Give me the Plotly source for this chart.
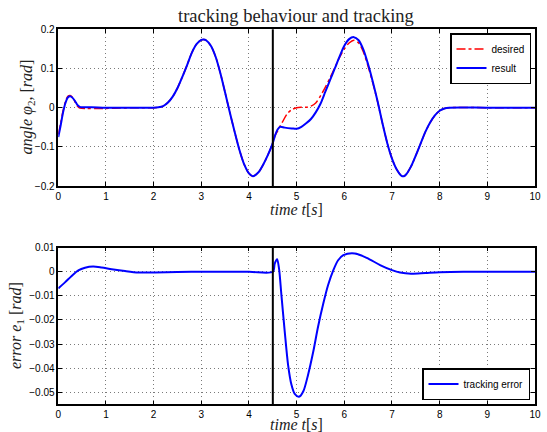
import plotly.graph_objects as go

# ---------------- data ----------------
t_result = [0, 0.05, 0.1, 0.15, 0.2, 0.25, 0.3, 0.35, 0.4, 0.45,
            0.5, 0.7, 1.0, 1.5, 2.0, 2.1, 2.2, 2.3, 2.4, 2.5,
            2.6, 2.7, 2.8, 2.9, 3.0, 3.05, 3.1, 3.2, 3.3, 3.4,
            3.5, 3.6, 3.7, 3.8, 3.9, 4.0, 4.08, 4.2, 4.3, 4.4,
            4.5, 4.55, 4.6, 4.65, 4.75, 4.9, 5.0, 5.1, 5.2, 5.3,
            5.4, 5.5, 5.6, 5.7, 5.8, 5.9, 6.0, 6.1, 6.2, 6.3,
            6.4, 6.5, 6.6, 6.7, 6.8, 6.9, 7.0, 7.1, 7.2, 7.25,
            7.3, 7.4, 7.5, 7.6, 7.7, 7.8, 7.9, 8.0, 8.1, 8.2,
            9.0, 10.0]
result = [-0.075, -0.045, -0.012, 0.012, 0.026, 0.029, 0.025, 0.017, 0.007, 0.002,
          0.001, 0.001, 0.0, 0.0, 0.0, 0.001, 0.004, 0.013, 0.028, 0.05,
          0.078, 0.108, 0.14, 0.162, 0.173, 0.174, 0.172, 0.158, 0.13, 0.088,
          0.038, -0.013, -0.062, -0.108, -0.145, -0.168, -0.175, -0.165, -0.145, -0.12,
          -0.09, -0.07, -0.056, -0.049, -0.051, -0.053, -0.054, -0.049, -0.04, -0.029,
          -0.012, 0.01, 0.04, 0.07, 0.1, 0.13, 0.158, 0.175, 0.18, 0.172,
          0.148, 0.11, 0.065, 0.015, -0.04, -0.09, -0.13, -0.158, -0.174, -0.175,
          -0.17, -0.15, -0.122, -0.092, -0.062, -0.038, -0.02, -0.008, -0.002, 0.0,
          0.0, 0.0]

t_desired = [0, 0.05, 0.1, 0.15, 0.2, 0.25, 0.3, 0.35, 0.4, 0.45,
             0.6, 0.8, 1.0, 1.3, 1.7, 2.0, 2.1, 2.2, 2.3, 2.4,
             2.5, 2.6, 2.7, 2.8, 2.9, 3.0, 3.05, 3.1, 3.2, 3.3,
             3.4, 3.5, 3.6, 3.7, 3.8, 3.9, 4.0, 4.08, 4.2, 4.3,
             4.4, 4.5, 4.55, 4.6, 4.65, 4.7, 4.8, 4.9, 5.0, 5.1,
             5.2, 5.3, 5.4, 5.5, 5.6, 5.7, 5.8, 5.9, 6.0, 6.1,
             6.2, 6.3, 6.4, 6.5, 6.6, 6.7, 6.8, 6.9, 7.0, 7.1,
             7.2, 7.25, 7.3, 7.4, 7.5, 7.6, 7.7, 7.8, 7.9, 8.0,
             8.1, 8.2, 9.0, 10.0]
desired = [-0.068, -0.04, -0.008, 0.015, 0.029, 0.031, 0.026, 0.015, 0.004, -0.001,
           -0.002, -0.002, -0.002, -0.001, 0.0, 0.0, 0.001, 0.004, 0.013, 0.028,
           0.05, 0.078, 0.108, 0.14, 0.162, 0.173, 0.174, 0.172, 0.158, 0.13,
           0.088, 0.038, -0.013, -0.062, -0.108, -0.145, -0.168, -0.175, -0.165, -0.145,
           -0.12, -0.09, -0.07, -0.06, -0.048, -0.037, -0.016, -0.005, 0.0, 0.001,
           0.001, 0.004, 0.012, 0.03, 0.052, 0.076, 0.102, 0.128, 0.15, 0.165,
           0.172, 0.165, 0.142, 0.105, 0.062, 0.014, -0.04, -0.09, -0.13, -0.158,
           -0.174, -0.175, -0.17, -0.15, -0.122, -0.092, -0.062, -0.038, -0.02, -0.008,
           -0.002, 0.0, 0.0, 0.0]

t_error = [0, 0.14, 0.28, 0.42, 0.56, 0.73, 0.91, 1.12, 1.4, 1.68,
           2.03, 2.5, 3.0, 4.0, 4.5, 4.54, 4.59, 4.63, 4.68, 4.75,
           4.82, 4.89, 4.96, 5.05, 5.14, 5.24, 5.35, 5.45, 5.56, 5.66,
           5.77, 5.87, 5.98, 6.22, 6.47, 6.75, 7.0, 7.17, 7.4, 7.7,
           8.0, 8.5, 9.0, 10.0]
tracking_error = [-0.0069, -0.0044, -0.0017, 0.0006, 0.0017, 0.0022, 0.0018, 0.0011, 0.0003, -0.0003,
                  -0.0003, -0.0001, 0.0, 0.0, 0.0, 0.0034, 0.0052, 0.0014, -0.0096, -0.0248,
                  -0.0386, -0.0468, -0.0507, -0.0519, -0.0496, -0.0427, -0.033, -0.0227, -0.0131, -0.0055,
                  0.0007, 0.0048, 0.0069, 0.0076, 0.0058, 0.0028, 0.0007, -0.0003, -0.0008, -0.0005,
                  -0.0002, 0.0, 0.0, 0.0]

switch_time = 4.5

x_ticks = [0, 1, 2, 3, 4, 5, 6, 7, 8, 9, 10]
y1_ticks = [-0.2, -0.1, 0, 0.1, 0.2]
y1_labels = ["\u22120.2", "\u22120.1", "0", "0.1", "0.2"]
y2_ticks = [-0.05, -0.04, -0.03, -0.02, -0.01, 0, 0.01]
y2_labels = ["\u22120.05", "\u22120.04", "\u22120.03", "\u22120.02", "\u22120.01", "0", "0.01"]

# ---------------- figure ----------------
W, H = 547, 432
SANS = "Liberation Sans, Arial, sans-serif"
SERIF = "Liberation Serif, Times New Roman, serif"

fig = go.Figure()

fig.add_trace(go.Scatter(x=t_desired, y=desired, mode="lines", name="desired",
                         line=dict(color="#ff0000", width=1.5, dash="dashdot",
                                   shape="spline", smoothing=0.8),
                         xaxis="x", yaxis="y", legend="legend"))
fig.add_trace(go.Scatter(x=t_result, y=result, mode="lines", name="result",
                         line=dict(color="#0000ff", width=2, shape="spline", smoothing=0.8),
                         xaxis="x", yaxis="y", legend="legend"))
fig.add_trace(go.Scatter(x=t_error, y=tracking_error, mode="lines", name="tracking error",
                         line=dict(color="#0000ff", width=2, shape="spline", smoothing=0.8),
                         xaxis="x2", yaxis="y2", legend="legend2"))

xdom = [58.3 / W, 535 / W]
ax_common = dict(showline=True, linecolor="black", linewidth=1.5, mirror="ticks",
                 ticks="inside", ticklen=4, tickwidth=1, tickcolor="black",
                 showgrid=True, gridcolor="#7a7a7a", gridwidth=1, griddash="1px,3px",
                 zeroline=False, automargin=False,
                 tickfont=dict(family=SANS, size=10, color="black"))

fig.update_layout(
    width=W, height=H,
    margin=dict(l=0, r=0, t=0, b=0),
    paper_bgcolor="white", plot_bgcolor="white",
    xaxis=dict(domain=xdom, range=[0, 10], tickvals=x_ticks, anchor="y", **ax_common),
    yaxis=dict(domain=[1 - 186 / H, 1 - 29.3 / H], range=[-0.2, 0.2],
               tickvals=y1_ticks, ticktext=y1_labels, anchor="x", **ax_common),
    xaxis2=dict(domain=xdom, range=[0, 10], tickvals=x_ticks, anchor="y2", **ax_common),
    yaxis2=dict(domain=[1 - 404.3 / H, 1 - 247.7 / H], range=[-0.055, 0.01],
                tickvals=y2_ticks, ticktext=y2_labels, anchor="x2", **ax_common),
    legend=dict(x=531 / W, y=1 - 33 / H, xanchor="right", yanchor="top",
                bgcolor="white", bordercolor="black", borderwidth=1.5,
                font=dict(family=SANS, size=10, color="black"),
                tracegroupgap=0, itemwidth=30),
    legend2=dict(x=530 / W, y=1 - 400 / H, xanchor="right", yanchor="bottom",
                 bgcolor="white", bordercolor="black", borderwidth=1.5,
                 font=dict(family=SANS, size=10, color="black"), itemwidth=30),
    showlegend=True,
)

# switching instant
for xr, yr in [("x", "y domain"), ("x2", "y2 domain")]:
    fig.add_shape(type="line", xref=xr, yref=yr, x0=switch_time, x1=switch_time,
                  y0=0, y1=1, line=dict(color="black", width=2))

annots = [
    dict(text="tracking behaviour and tracking", x=296 / W, y=1 - 16 / H,
         font=dict(family=SERIF, size=18.5, color="#222")),
    dict(text="<i>angle φ</i><sub>2</sub>, [<i>rad</i>]", x=27 / W, y=1 - 107.5 / H,
         textangle=-90, font=dict(family=SERIF, size=16, color="#222")),
    dict(text="<i>time t</i>[<i>s</i>]", x=296 / W, y=1 - 209 / H,
         font=dict(family=SERIF, size=16, color="#222")),
    dict(text="<i>error e</i><sub>1</sub> [<i>rad</i>]", x=16 / W, y=1 - 326 / H,
         textangle=-90, font=dict(family=SERIF, size=16, color="#222")),
    dict(text="<i>time t</i>[<i>s</i>]", x=296 / W, y=1 - 424.5 / H,
         font=dict(family=SERIF, size=16, color="#222")),
]
for a in annots:
    fig.add_annotation(xref="paper", yref="paper", showarrow=False,
                       xanchor="center", yanchor="middle", **a)

fig.write_html("out.html", config={"displayModeBar": False},
               post_script="document.body.style.margin='0';document.body.style.overflow='hidden';")
